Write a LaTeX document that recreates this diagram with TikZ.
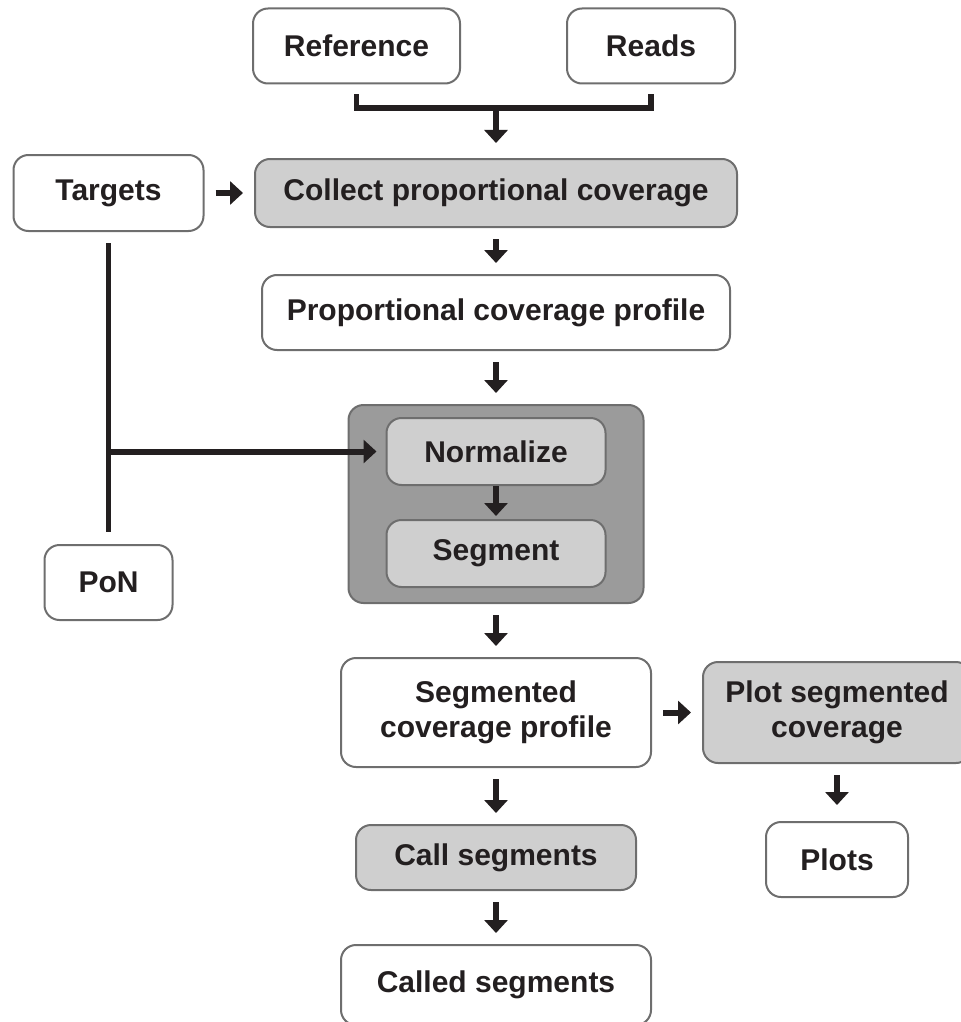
\documentclass[tikz,border=0pt]{standalone}
\usepackage{fontspec}
\setmainfont{Liberation Sans}
\usetikzlibrary{calc,arrows.meta}
\definecolor{ink}{HTML}{231F20}
\definecolor{rim}{HTML}{6E6E6E}
\definecolor{lightfill}{HTML}{CFCFCF}
\definecolor{darkfill}{HTML}{9B9B9B}
\tikzset{
  box/.style={draw=rim, line width=1pt, rounded corners=7.5pt, fill=white, text=ink, inner sep=0pt, align=center, font=\fontsize{15}{17.5}\selectfont\bfseries},
  tool/.style={box, fill=lightfill},
  link/.style={draw=ink, line width=2.8pt},
  flow/.style={link, line width=3pt, -{Triangle[width=11.5pt,length=6.5pt]}, shorten <=5.5pt, shorten >=5.5pt}
}
\begin{document}
\begin{tikzpicture}[x=0.5pt,y=-0.5pt]
\useasboundingbox (0,0) rectangle (961,1022);
\coordinate (merge) at (496,108);

\node[box, minimum width=103.5pt, minimum height=37.5pt] (ref) at (356.5,46) {Reference};
\node[box, minimum width=84pt, minimum height=37.5pt] (reads) at (651,46) {Reads};
\node[box, minimum width=95pt, minimum height=38pt] (targets) at (108.5,193) {Targets};
\node[tool, minimum width=241pt, minimum height=34pt] (collect) at (496,193) {Collect proportional coverage};
\node[box, minimum width=234pt, minimum height=37.5pt] (profile) at (496,312.5) {Proportional coverage profile};
\node[box, fill=darkfill, minimum width=147.5pt, minimum height=99pt] (cnv) at (496,504) {};
\node[tool, minimum width=109.5pt, minimum height=33.5pt] (norm) at (496,451.5) {Normalize};
\node[tool, minimum width=109.5pt, minimum height=33.5pt] (segment) at (496,553.5) {Segment};
\node[box, minimum width=64pt, minimum height=37.5pt] (pon) at (108.5,582.5) {PoN};
\node[box, minimum width=155pt, minimum height=54.5pt] (segprofile) at (496,712.5) {Segmented\\coverage profile};
\node[tool, minimum width=134pt, minimum height=50.5pt] (plotseg) at (837,712.5) {Plot segmented\\coverage};
\node[box, minimum width=71pt, minimum height=37.5pt] (plots) at (837,859.5) {Plots};
\node[tool, minimum width=140pt, minimum height=32.5pt] (call) at (496,857.5) {Call segments};
\node[box, minimum width=155pt, minimum height=40pt] (called) at (496,985) {Called segments};

\draw[link, line join=miter] ([yshift=-5pt]ref.south) |- (merge) -| ([yshift=-5pt]reads.south);
\draw[flow, shorten <=0pt, shorten >=7.5pt] (merge)--(collect);
\draw[flow] (targets)--(collect);
\draw[flow] (collect)--(profile);
\draw[flow] (profile)--(cnv);
\draw[flow, shorten <=0pt, shorten >=1.5pt] (norm)--(segment);
\draw[flow] (cnv)--(segprofile);
\draw[flow] (segprofile)--(call);
\draw[flow] (call)--(called);
\draw[flow] (segprofile)--(plotseg);
\draw[flow, shorten >=8pt] (plotseg)--(plots);

\draw[link] ([yshift=-5.5pt]targets.south)--([yshift=6pt]pon.north);
\draw[flow, shorten <=0pt, shorten >=4.5pt] (targets.south |- norm.west)--(norm.west);
\end{tikzpicture}
\end{document}
